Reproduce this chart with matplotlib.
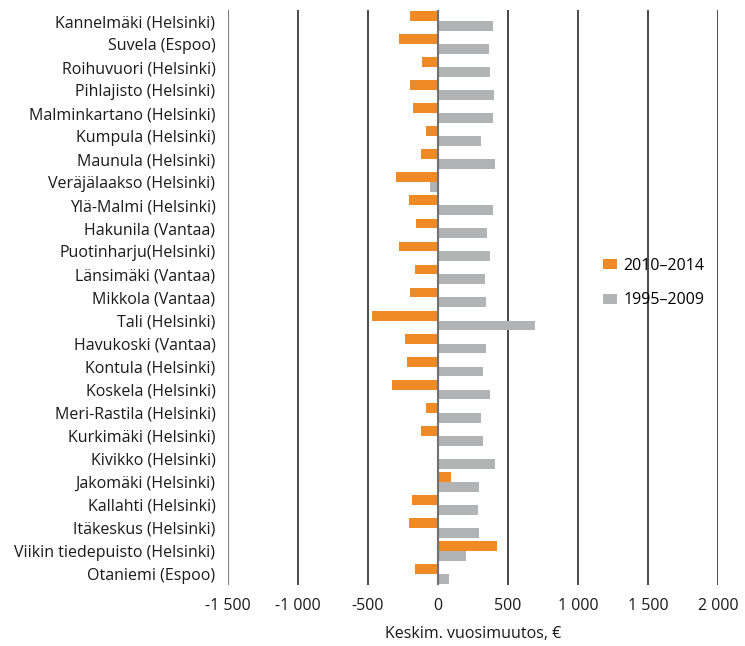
import numpy as np
import matplotlib.pyplot as plt
from matplotlib.ticker import FuncFormatter

plt.rcParams['font.family'] = ['Open Sans', 'DejaVu Sans']

# Alueet ylhäältä alas
areas = ['Kannelmäki (Helsinki)', 'Suvela (Espoo)', 'Roihuvuori (Helsinki)',
         'Pihlajisto (Helsinki)', 'Malminkartano (Helsinki)', 'Kumpula (Helsinki)',
         'Maunula (Helsinki)', 'Veräjälaakso (Helsinki)', 'Ylä-Malmi (Helsinki)',
         'Hakunila (Vantaa)', 'Puotinharju(Helsinki)', 'Länsimäki (Vantaa)',
         'Mikkola (Vantaa)', 'Tali (Helsinki)', 'Havukoski (Vantaa)',
         'Kontula (Helsinki)', 'Koskela (Helsinki)', 'Meri-Rastila (Helsinki)',
         'Kurkimäki (Helsinki)', 'Kivikko (Helsinki)', 'Jakomäki (Helsinki)',
         'Kallahti (Helsinki)', 'Itäkeskus (Helsinki)', 'Viikin tiedepuisto (Helsinki)',
         'Otaniemi (Espoo)']

change_2010_2014 = [-200, -278, -114, -200, -178, -86, -121, -300, -207, -157,
                    -278, -164, -200, -471, -235, -221, -328, -86, -121, -7,
                    93, -185, -207, 420, -164]
change_1995_2009 = [392, 363, 370, 399, 392, 306, 406, -57, 392, 349,
                    370, 335, 342, 691, 342, 320, 370, 306, 320, 406,
                    292, 285, 292, 199, 78]

orange = '#F08A24'
grey = '#B1B3B5'

fig = plt.figure(figsize=(7.45, 6.46), dpi=100)
ax = fig.add_axes([0.306, 0.094, 0.658, 0.891])

y = np.arange(len(areas))
h = 0.43
ax.barh(y - h / 2, change_2010_2014, height=h, color=orange, label='2010–2014', zorder=3)
ax.barh(y + h / 2, change_1995_2009, height=h, color=grey, label='1995–2009', zorder=3)

ax.set_xlim(-1500, 2000)
ax.set_ylim(len(areas) - 0.5, -0.5)
ax.set_xticks(np.arange(-1500, 2001, 500))
ax.xaxis.set_major_formatter(FuncFormatter(lambda v, p: f'{int(v):,}'.replace(',', ' ')))
ax.set_yticks(y)
ax.set_yticklabels(areas)

for v in np.arange(-1000, 2001, 500):
    if v != 0:
        ax.axvline(v, color='#3c3c3c', lw=1.3, zorder=1)
ax.axvline(0, color='#707070', lw=1.5, zorder=4)
ax.axvline(-1500, color='#808080', lw=1.5, zorder=1)

for s in ax.spines.values():
    s.set_visible(False)
ax.tick_params(axis='both', length=0, labelsize=11.5, colors='#1a1a1a')
ax.tick_params(axis='y', pad=9)
ax.tick_params(axis='x', pad=9)
ax.set_xlabel('Keskim. vuosimuutos, €', fontsize=11.5, color='#1a1a1a', labelpad=9)

ax.legend(loc='center left', bbox_to_anchor=(0.735, 0.525), frameon=False,
          fontsize=11.5, handlelength=0.9, handleheight=0.6, labelspacing=1.15,
          handletextpad=0.4)

plt.savefig('out.png', dpi=100)
